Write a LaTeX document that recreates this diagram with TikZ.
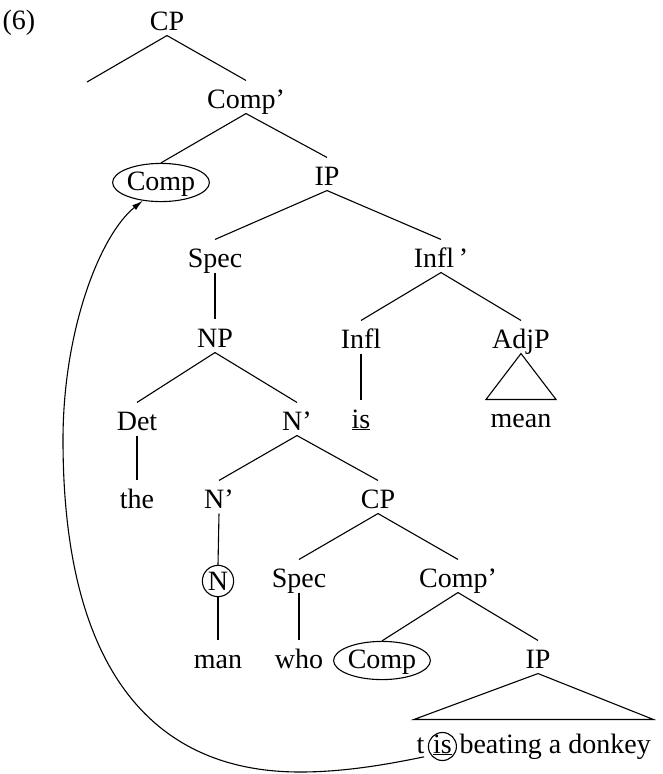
\documentclass[tikz,border=0pt]{standalone}
\usepackage{fontspec}
\setmainfont{Liberation Serif}
\usepackage{tikz}
\usetikzlibrary{shapes.geometric}
\usetikzlibrary{arrows.meta}
\usetikzlibrary{positioning}
\tikzset{
cat/.style={
  anchor=base,
  inner sep=2pt,
  text height=25pt,
  text depth=3pt,
  font=\fontsize{28}{32}\selectfont
},
ring/.style={cat,ellipse,draw,inner sep=0pt,text height=21pt,text depth=6pt},
nring/.style={cat,circle,draw,inner sep=1.5pt,text height=18pt,text depth=0pt},
isring/.style={cat,circle,draw,inner sep=0pt,text height=17pt,text depth=4pt},
}

\begin{document}
\begin{tikzpicture}[x=1pt,y=-1pt,line width=1.1pt]
\useasboundingbox (0,0) rectangle (662,774);
\node[cat] (num) at (19,29) {(6)};
% upper clause
\node[cat] (cp1) at (167,30) {CP};
\coordinate (cpspec) at (87,82);
\node[cat] (cbar1) at (246,108) {Comp’};
\node[ring] (comp1) at (161,190) {Comp};
\node[cat] (ip1) at (327,185) {IP};
\node[cat] (spec1) at (215,267) {Spec};
\node[cat] (ibar) at (441,267) {Infl\,’};
\node[cat] (np) at (215,347) {NP};
\node[cat] (infl) at (361,348) {Infl};
\node[cat] (adjp) at (521,348) {AdjP};
\node[cat] (is1) at (361,428) {\underline{is}};
\node[cat] (mean) at (521,427) {mean};
\node[cat] (det) at (137,430) {Det};
\node[cat] (nbar1) at (297,430) {N’};
\node[cat] (the) at (137,508) {the};
% relative clause
\node[cat] (nbar2) at (219,508) {N’};
\node[cat] (cp2) at (378,508) {CP};
\node[nring] (nhead) at (218,590) {N};
\node[cat] (spec2) at (299,587) {Spec};
\node[cat] (cbar2) at (458,587) {Comp’};
\node[cat] (man) at (218,668) {man};
\node[cat] (who) at (299,668) {who};
\node[ring] (comp2) at (382,668) {Comp};
\node[cat] (ip2) at (538,668) {IP};
\node[cat,anchor=base west] (tr) at (414,753) {t};
\node[isring,base right=1pt of tr] (isc) {\underline{is}};
\node[cat,base right=0pt of isc] (donkey) {beating a donkey};
% the branches
\draw (cp1.south) -- (cpspec);
\foreach \a/\b in {cp1/cbar1,cbar1/comp1,cbar1/ip1,ip1/spec1,ip1/ibar,
  spec1/np,ibar/infl,ibar/adjp,infl/is1,np/det,np/nbar1,det/the,
  nbar1/nbar2,nbar1/cp2,nbar2/nhead,nhead/man,cp2/spec2,cp2/cbar2,
  spec2/who,cbar2/comp2,cbar2/ip2}
{
  \draw (\a.south) -- (\b.north);
}
% the triangles
\draw (adjp.south) -- ([xshift=-35pt]mean.north) -- ([xshift=35pt]mean.north) -- cycle;
\draw (ip2.south) -- ([yshift=6pt]tr.north west) -- ([yshift=6pt]donkey.north east) -- cycle;
% the movement
\draw[-{Latex[length=11pt,width=6pt]}] ([xshift=-8pt]isc.south west)
  .. controls (380,766) and (340,772) .. (300,772)
  .. controls (145,772) and (63,659) .. (63,440)
  .. controls (63,330) and (100,235) .. (comp1.225);
\end{tikzpicture}
\end{document}
